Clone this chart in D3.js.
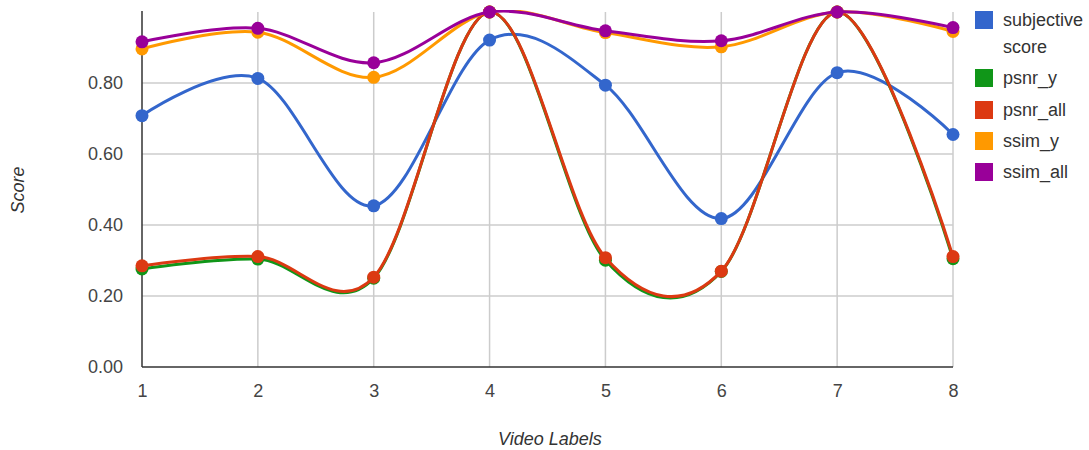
<!DOCTYPE html>
<html>
<head>
<meta charset="utf-8">
<script src="https://cdn.jsdelivr.net/npm/d3@7"></script>
<style>
    body { margin: 0; background: #fff; }
    text { font-family: Arial, "Liberation Sans", sans-serif; }
</style>
</head>
<body>
<script>
// chart data
var videoLabels = [1, 2, 3, 4, 5, 6, 7, 8];
var seriesNames = ["subjective score", "psnr_y", "psnr_all", "ssim_y", "ssim_all"];
var subjectiveScore = [0.708, 0.813, 0.454, 0.921, 0.794, 0.418, 0.829, 0.655];
var psnrY = [0.276, 0.304, 0.250, 1.0, 0.301, 0.269, 1.0, 0.305];
var psnrAll = [0.285, 0.311, 0.253, 1.0, 0.308, 0.270, 1.0, 0.311];
var ssimY = [0.896, 0.943, 0.816, 1.0, 0.942, 0.902, 1.0, 0.945];
var ssimAll = [0.916, 0.954, 0.857, 1.0, 0.947, 0.919, 1.0, 0.956];
var yTicks = [0, 0.2, 0.4, 0.6, 0.8];
var colors = ["#3366cc", "#109618", "#dc3912", "#ff9900", "#990099"];

var series = [subjectiveScore, psnrY, psnrAll, ssimY, ssimAll];

var width = 1089, height = 450;
var plot = {left: 142, right: 953, top: 12, bottom: 367};

var svg = d3.select("body").append("svg")
    .attr("width", width)
    .attr("height", height);

svg.append("rect")
    .attr("width", width)
    .attr("height", height)
    .style("fill", "#fff");

var x = d3.scaleLinear().domain([1, 8]).range([plot.left, plot.right]);
var y = d3.scaleLinear().domain([0, 1]).range([plot.bottom, plot.top]);

// horizontal gridlines
svg.append("g")
    .selectAll("line")
    .data(yTicks.slice(1))
    .enter()
    .append("line")
    .attr("x1", plot.left)
    .attr("x2", plot.right)
    .attr("y1", function(d){ return y(d); })
    .attr("y2", function(d){ return y(d); })
    .style("stroke", "#cccccc")
    .style("stroke-width", "1.5px");

// vertical gridlines
svg.append("g")
    .selectAll("line")
    .data(videoLabels.slice(1))
    .enter()
    .append("line")
    .attr("x1", function(d){ return x(d); })
    .attr("x2", function(d){ return x(d); })
    .attr("y1", plot.top)
    .attr("y2", plot.bottom)
    .style("stroke", "#cccccc")
    .style("stroke-width", "1.5px");

// y axis
var yAxis = d3.axisLeft(y)
    .tickValues(yTicks)
    .tickSize(0)
    .tickPadding(19)
    .tickFormat(d3.format(".2f"));

var gY = svg.append("g")
    .attr("transform", "translate(" + plot.left + ",0)")
    .call(yAxis);
gY.select(".domain").remove();
gY.selectAll("text")
    .style("font-size", "18px")
    .style("fill", "#444");

// x axis
var xAxis = d3.axisBottom(x)
    .tickValues(videoLabels)
    .tickSize(0)
    .tickPadding(17)
    .tickFormat(d3.format("d"));

var gX = svg.append("g")
    .attr("transform", "translate(0," + plot.bottom + ")")
    .call(xAxis);
gX.select(".domain").remove();
gX.selectAll("text")
    .style("font-size", "18px")
    .style("fill", "#444");

// axis lines
svg.append("line")
    .attr("x1", plot.left).attr("x2", plot.left)
    .attr("y1", plot.top - 1).attr("y2", plot.bottom)
    .style("stroke", "#333")
    .style("stroke-width", "1.5px");
svg.append("line")
    .attr("x1", plot.left).attr("x2", plot.right)
    .attr("y1", plot.bottom).attr("y2", plot.bottom)
    .style("stroke", "#333")
    .style("stroke-width", "1.5px");

// axis titles
svg.append("text")
    .text("Score")
    .attr("transform", "translate(24,190) rotate(-90)")
    .attr("text-anchor", "middle")
    .style("font-size", "18px")
    .style("font-style", "italic")
    .style("fill", "#333");

svg.append("text")
    .text("Video Labels")
    .attr("x", 550)
    .attr("y", 445)
    .attr("text-anchor", "middle")
    .style("font-size", "18px")
    .style("font-style", "italic")
    .style("fill", "#333");

// smoothed lines and dots
var line = d3.line()
    .x(function(d, i){ return x(videoLabels[i]); })
    .y(function(d){ return y(d); })
    .curve(d3.curveCardinal.tension(0));

svg.append("clipPath")
    .attr("id", "clip")
    .append("rect")
    .attr("x", plot.left)
    .attr("y", plot.top - 2)
    .attr("width", plot.right - plot.left + 10)
    .attr("height", plot.bottom - plot.top + 2);

series.forEach(function(s, k){
    svg.append("path")
        .datum(s)
        .attr("d", line)
        .attr("clip-path", "url(#clip)")
        .style("fill", "none")
        .style("stroke", colors[k])
        .style("stroke-width", "3px");

    svg.append("g")
        .selectAll("circle")
        .data(s)
        .enter()
        .append("circle")
        .attr("cx", function(d, i){ return x(videoLabels[i]); })
        .attr("cy", function(d){ return y(d); })
        .attr("r", 6.5)
        .style("fill", colors[k]);
});

// legend
var legendRows = [
    {name: ["subjective", "score"], y: 20},
    {name: ["psnr_y"], y: 78},
    {name: ["psnr_all"], y: 110},
    {name: ["ssim_y"], y: 141},
    {name: ["ssim_all"], y: 172}
];

legendRows.forEach(function(r, k){
    svg.append("rect")
        .attr("x", 975)
        .attr("y", r.y - 9)
        .attr("width", 18)
        .attr("height", 18)
        .style("fill", colors[k]);

    r.name.forEach(function(t, j){
        svg.append("text")
            .text(t)
            .attr("x", 1003)
            .attr("y", r.y + 6 + j * 27)
            .style("font-size", "18px")
            .style("fill", "#333");
    });
});
</script>
</body>
</html>
